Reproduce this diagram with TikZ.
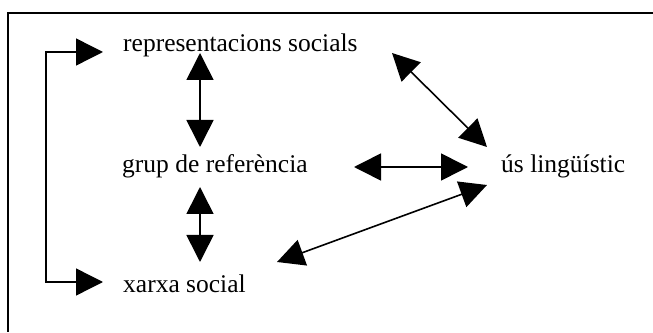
\documentclass[tikz,border=0pt]{standalone}
\usepackage{fontspec}
\setmainfont{Liberation Serif}
\usetikzlibrary{arrows.meta}
\begin{document}
\begin{tikzpicture}[x=1pt,y=1pt,
  lbl/.style={anchor=base west,inner sep=0pt,font=\fontsize{25.5}{30}\selectfont},
  dbl/.style={line width=1.6pt,{Triangle[length=27pt,width=27pt]}-{Triangle[length=27pt,width=27pt]}},
  bracket/.style={line width=1.4pt,{Triangle[length=27pt,width=27pt]}-{Triangle[length=27pt,width=27pt]}},
  frameline/.style={line width=2pt}]
\useasboundingbox (0,0) rectangle (653,332);
% frame (top and left edges)
\coordinate (ftr) at (653,319);
\coordinate (ftl) at (8,319);
\coordinate (fbl) at (8,0);
\draw[frameline] (ftr) -- (ftl) -- (fbl);
% labels
\node[lbl] (rep) at (123,280) {representacions socials};
\node[lbl] (grup) at (122,159) {grup de referència};
\node[lbl] (us) at (501,159) {ús lingüístic};
\node[lbl] (xarxa) at (123,40) {xarxa social};
% bracket joining xarxa and rep
\coordinate (bt) at (103,280);
\coordinate (bb) at (103,50);
\coordinate (bct) at (46,280);
\coordinate (bcb) at (46,50);
\draw[bracket] (bt) -- (bct) -- (bcb) -- (bb);
% connector end points
\coordinate (v1a) at (200,279);
\coordinate (v1b) at (200,185);
\coordinate (v2a) at (200,145);
\coordinate (v2b) at (200,70);
\coordinate (ha) at (354,165);
\coordinate (hb) at (468,165);
\coordinate (d1a) at (392,279);
\coordinate (d1b) at (487,185);
\coordinate (d2a) at (277,70);
\coordinate (d2b) at (487,147);
\draw[dbl] (v1a) -- (v1b);
\draw[dbl] (v2a) -- (v2b);
\draw[dbl] (ha) -- (hb);
\draw[dbl] (d1a) -- (d1b);
\draw[dbl] (d2a) -- (d2b);
\end{tikzpicture}
\end{document}
